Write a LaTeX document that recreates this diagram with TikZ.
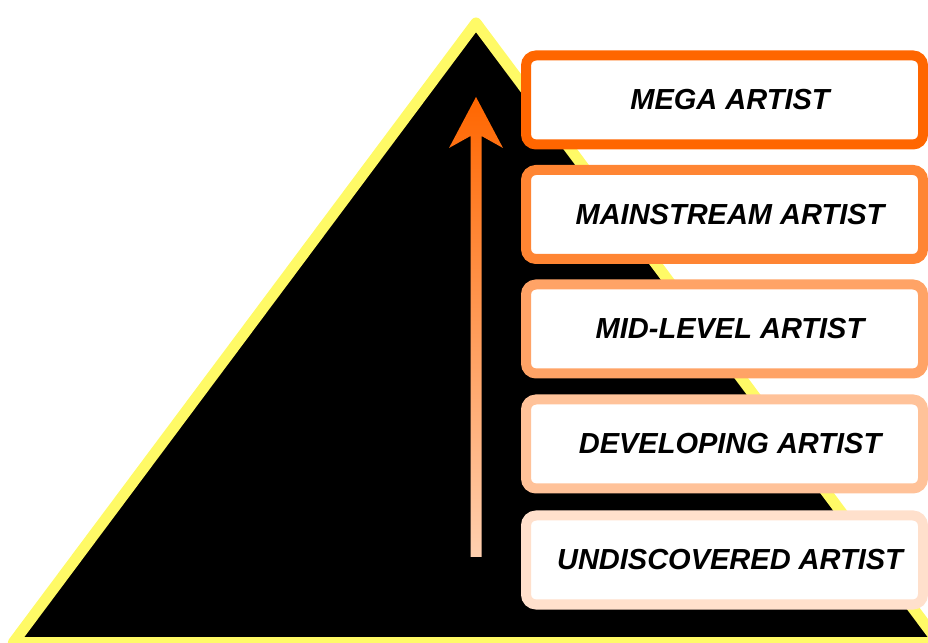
\documentclass[tikz,border=0pt]{standalone}
\usepackage{fontspec}
\setmainfont{Liberation Sans}
\usetikzlibrary{calc}
\definecolor{tri}{RGB}{255,250,102}
\definecolor{c1}{RGB}{255,102,0}
\definecolor{c2}{RGB}{255,133,51}
\definecolor{c3}{RGB}{255,163,102}
\definecolor{c4}{RGB}{255,194,153}
\definecolor{c5}{RGB}{255,224,204}
\definecolor{peach}{RGB}{255,208,176}
\tikzset{
  tier/.style={draw=#1, fill=white, line width=10pt, rounded corners=10pt,
    minimum width=397pt, minimum height=89pt, inner sep=0pt},
  tierlabel/.style={font=\fontsize{29}{34}\selectfont\bfseries\itshape, text=black, xshift=5.5pt},
}
\begin{document}
\begin{tikzpicture}[x=1pt,y=1pt]
\useasboundingbox (0,0) rectangle (928,642);
\clip (0,0) rectangle (928,642);
% pyramid
\coordinate (apex) at (476,619);
\coordinate (bl) at (13.4,-0.5);
\coordinate (br) at (938.6,-0.5);
\draw[tri, line width=11pt, line join=round, fill=black] (apex) -- (bl) -- (br) -- cycle;
% arrow
\coordinate (tail) at (476,85);
\coordinate (tip) at (476,545);
\shade[top color=c1, bottom color=peach]
  ($(tail)+(-5.5,0)$) -- ($(tail)+(5.5,0)$) -- ($(tip)+(5.5,-39)$) -- ($(tip)+(27,-51)$)
  -- (tip) -- ($(tip)+(-27,-51)$) -- ($(tip)+(-5.5,-39)$) -- cycle;
% tiers
\node[tier=c1, label={[tierlabel]center:MEGA ARTIST}] (mega) at (724.5,542) {};
\node[tier=c2, label={[tierlabel]center:MAINSTREAM ARTIST}] (main) at (724.5,427.5) {};
\node[tier=c3, label={[tierlabel]center:MID-LEVEL ARTIST}] (mid) at (724.5,313) {};
\node[tier=c4, label={[tierlabel]center:DEVELOPING ARTIST}] (dev) at (724.5,198) {};
\node[tier=c5, label={[tierlabel]center:UNDISCOVERED ARTIST}] (undis) at (724.5,82) {};
\end{tikzpicture}
\end{document}
